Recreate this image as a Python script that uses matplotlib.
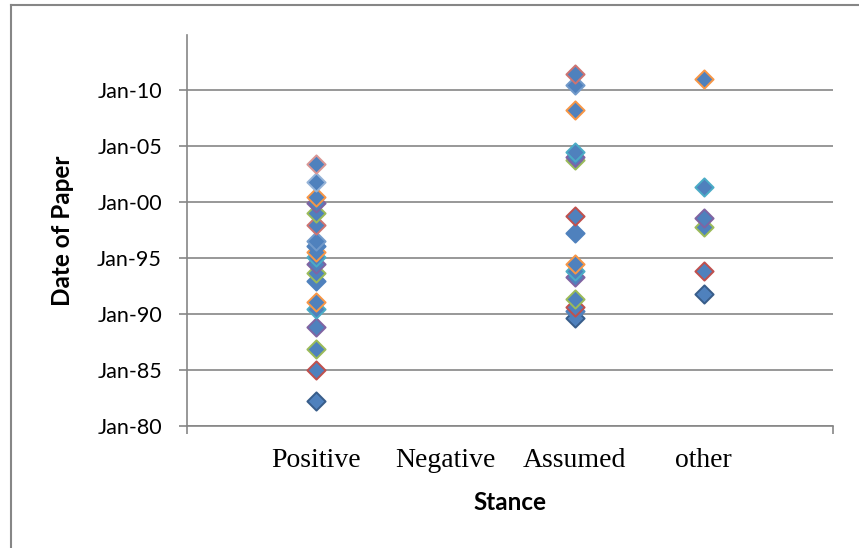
import matplotlib.pyplot as plt
from matplotlib.lines import Line2D

# data (decimal years)
categories = ["Positive", "Negative", "Assumed", "other"]

positive_years = [2003.4, 2001.8, 2000.4, 1999.9, 1999.0, 1997.9, 1996.5, 1996.1,
                  1995.5, 1995.1, 1994.5, 1993.7, 1992.9, 1991.1, 1990.4, 1988.8,
                  1986.9, 1985.0, 1982.2]
positive_edges = ["#D99694", "#95B3D7", "#F79646", "#8064A2", "#9BBB59", "#CD7371",
                  "#729ACA", "#4F81BD", "#F79646", "#4BACC6", "#8064A2", "#9BBB59",
                  "#4F81BD", "#F79646", "#4BACC6", "#8064A2", "#9BBB59", "#C0504D",
                  "#385D8A"]

assumed_years = [2011.4, 2010.4, 2008.2, 2004.5, 2004.0, 2003.7, 1998.7, 1997.2,
                 1994.5, 1993.8, 1993.3, 1991.3, 1990.6, 1990.3, 1989.6]
assumed_edges = ["#CD7371", "#729ACA", "#F79646", "#4BACC6", "#8064A2", "#9BBB59",
                 "#C0504D", "#4F81BD", "#F79646", "#4BACC6", "#8064A2", "#9BBB59",
                 "#C0504D", "#4F81BD", "#385D8A"]

other_years = [2011.0, 2001.3, 1998.6, 1997.8, 1993.8, 1991.8]
other_edges = ["#F79646", "#4BACC6", "#8064A2", "#9BBB59", "#C0504D", "#385D8A"]

ytick_years = [1980, 1985, 1990, 1995, 2000, 2005, 2010]
ytick_labels = ["Jan-80", "Jan-85", "Jan-90", "Jan-95", "Jan-00", "Jan-05", "Jan-10"]

grey = "#868686"
fill = "#4F81BD"

fig = plt.figure(figsize=(8.59, 5.48), dpi=100)
ax = fig.add_axes([187 / 859, 1 - 426 / 548, (833 - 187) / 859, (426 - 35) / 548])

# draw bottom to top so upper markers overlap like the original
groups = [(1, positive_years, positive_edges),
          (3, assumed_years, assumed_edges),
          (4, other_years, other_edges)]
for xpos, years, edges in groups:
    for y, ec in reversed(list(zip(years, edges))):
        ax.scatter([xpos], [y], marker="D", s=86, c=fill, edgecolors=ec,
                   linewidths=1.4, zorder=3)

ax.set_xlim(0, 5)
ax.set_ylim(1980, 2014.9)

# gridlines and axes
ax.set_yticks(ytick_years)
ax.set_yticklabels(ytick_labels, family="Lato", fontsize=15.5)
ax.yaxis.grid(True, color=grey, linewidth=1.2)
ax.set_axisbelow(True)

ax.set_xticks([0, 5])
ax.set_xticklabels(["", ""])
ax.set_xticks([1, 2, 3, 4], minor=True)
ax.set_xticklabels(categories, minor=True, family="Liberation Serif", fontsize=20)
ax.tick_params(axis="x", which="minor", length=0, pad=16)
ax.tick_params(axis="both", which="major", length=6, width=1.2, color=grey,
               direction="out")
ax.tick_params(axis="y", pad=12)

for side in ["top", "right"]:
    ax.spines[side].set_visible(False)
for side in ["left", "bottom"]:
    ax.spines[side].set_color(grey)
    ax.spines[side].set_linewidth(1.2)

ax.set_xlabel("Stance", family="Lato", fontweight="bold", fontsize=17.5, labelpad=13)
ax.set_ylabel("Date of Paper", family="Lato", fontweight="bold", fontsize=17.5,
              labelpad=17)

# outer chart frame (only left and top edges are in view)
fig.add_artist(Line2D([11 / 859, 11 / 859], [0, 1 - 5 / 548], color=grey, linewidth=1.5))
fig.add_artist(Line2D([11 / 859, 1], [1 - 5 / 548, 1 - 5 / 548], color=grey, linewidth=1.5))

fig.savefig("out.png", dpi=100)
